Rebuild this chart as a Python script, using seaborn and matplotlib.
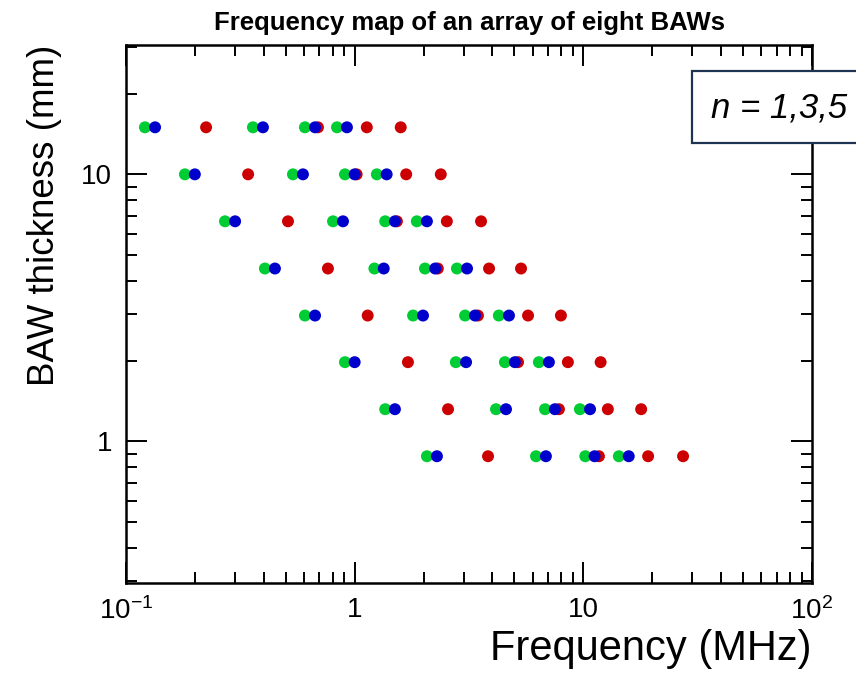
import numpy as np
import pandas as pd
import seaborn as sns
import matplotlib
matplotlib.use("Agg")
import matplotlib.pyplot as plt
from matplotlib import font_manager
from matplotlib.patches import Rectangle
from matplotlib.ticker import FixedLocator, NullFormatter, LogLocator

# BAW thicknesses (mm), one row of resonances per device
thickness = [15.0, 10.0, 6.67, 4.44, 2.96, 1.98, 1.32, 0.88]

# Resonance frequencies (MHz), harmonics n = 1, 3, 5, 7 for each device
freq_green = [
    [0.121, 0.359, 0.606, 0.837],
    [0.181, 0.537, 0.907, 1.25],
    [0.271, 0.804, 1.36, 1.87],
    [0.405, 1.22, 2.03, 2.80],
    [0.606, 1.80, 3.04, 4.27],
    [0.907, 2.77, 4.54, 6.39],
    [1.36, 4.15, 6.80, 9.66],
    [2.07, 6.21, 10.2, 14.3],
]
freq_blue = [
    [0.134, 0.397, 0.671, 0.925],
    [0.200, 0.594, 1.00, 1.38],
    [0.300, 0.889, 1.50, 2.07],
    [0.448, 1.34, 2.25, 3.10],
    [0.671, 1.99, 3.36, 4.73],
    [1.00, 3.07, 5.02, 7.07],
    [1.50, 4.59, 7.51, 10.7],
    [2.29, 6.86, 11.2, 15.8],
]
freq_red = [
    [0.224, 0.691, 1.13, 1.59],
    [0.342, 1.02, 1.68, 2.38],
    [0.511, 1.53, 2.53, 3.57],
    [0.764, 2.31, 3.87, 5.34],
    [1.14, 3.46, 5.73, 7.98],
    [1.71, 5.18, 8.56, 11.9],
    [2.56, 7.82, 12.8, 17.9],
    [3.83, 11.7, 19.2, 27.3],
]

mode_colors = {"red": "#cc0000", "green": "#00cc33", "blue": "#0000cc"}

x_ticks = [0.1, 1, 10, 100]
x_tick_labels = [r"$10^{-1}$", "1", "10", r"$10^{2}$"]
y_ticks = [1, 10]
y_tick_labels = ["1", "10"]

# Long-form table; red first so green and blue sit on top
rows = []
for name, table in [("red", freq_red), ("green", freq_green), ("blue", freq_blue)]:
    for t, freqs in zip(thickness, table):
        for f in freqs:
            rows.append({"thickness": t, "frequency": f, "mode": name})
df = pd.DataFrame(rows)

sns.set_theme(style="white")
available = {f.name for f in font_manager.fontManager.ttflist}
base_font = "Liberation Sans"
title_font = "Liberation Sans Narrow" if "Liberation Sans Narrow" in available else base_font
plt.rcParams["font.family"] = [base_font, "DejaVu Sans"]
plt.rcParams["mathtext.fontset"] = "custom"
plt.rcParams["mathtext.rm"] = base_font
plt.rcParams["mathtext.it"] = base_font + ":italic"
plt.rcParams["text.color"] = "black"
plt.rcParams["axes.labelcolor"] = "black"
plt.rcParams["xtick.color"] = "black"
plt.rcParams["ytick.color"] = "black"

fig = plt.figure(figsize=(8.56, 6.77), dpi=100)
ax = fig.add_axes([126 / 856, 1 - 583 / 677, (812 - 126) / 856, (583 - 45) / 677])

sns.scatterplot(
    data=df, x="frequency", y="thickness", hue="mode",
    palette=mode_colors, s=74, linewidth=0, legend=False, ax=ax,
)

ax.set_xscale("log")
ax.set_yscale("log")
ax.set_xlim(0.1, 100)
ax.set_ylim(0.295, 30.5)

ax.xaxis.set_major_locator(FixedLocator(x_ticks))
ax.set_xticklabels(x_tick_labels)
ax.yaxis.set_major_locator(FixedLocator(y_ticks))
ax.set_yticklabels(y_tick_labels)
for axis in (ax.xaxis, ax.yaxis):
    axis.set_minor_locator(LogLocator(base=10, subs=np.arange(2, 10), numticks=20))
    axis.set_minor_formatter(NullFormatter())

ax.tick_params(which="both", direction="in", top=True, right=True,
               bottom=True, left=True, color="black", width=1.4)
ax.tick_params(which="major", length=15, labelsize=20, pad=10,
               labelcolor="black")
ax.tick_params(which="minor", length=8)
for sp in ax.spines.values():
    sp.set_color("black")
    sp.set_linewidth(1.8)

ax.set_xlabel("Frequency (MHz)", fontsize=30, loc="right", labelpad=3,
              color="black")
ax.set_ylabel("BAW thickness (mm)", fontsize=26.5, loc="top", labelpad=14,
              color="black")
ax.set_title("Frequency map of an array of eight BAWs", fontsize=18.5,
             fontweight="bold", family=title_font, pad=11, color="black")

# Harmonic-order annotation box running off the right edge
fig.add_artist(Rectangle((692 / 856, 1 - 143 / 677), 0.4, 72 / 677,
                         transform=fig.transFigure, facecolor="white",
                         edgecolor="#1f3353", linewidth=1.6, zorder=10,
                         clip_on=False))
fig.text(711 / 856, 1 - 108 / 677, "n = 1,3,5", fontsize=25,
         style="italic", va="center", ha="left", zorder=11, color="black")

fig.savefig("out.png", dpi=100, facecolor="white")
